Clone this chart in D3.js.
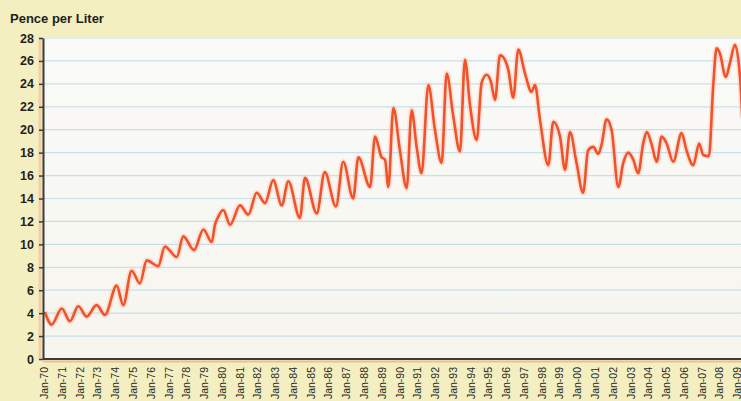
<!DOCTYPE html>
<html><head><meta charset="utf-8">
<script src="https://cdn.jsdelivr.net/npm/d3@7/dist/d3.min.js"></script>
<style>html,body{margin:0;padding:0;background:#F4EFC0;overflow:hidden}</style>
</head><body><svg id="c" width="741" height="401"></svg>
<script>
// decimal years and prices (pence per liter)
const years = [1970.05,1970.43,1971.0,1971.46,1971.93,1972.4,1972.96,1973.43,1974.09,1974.46,1974.93,1975.4,1975.78,1976.43,1976.8,1977.47,1977.84,1978.44,1978.97,1979.44,1979.62,1979.8,
1980.09,1980.47,1981.03,1981.5,1981.97,1982.44,1982.9,1983.38,1983.75,1984.4,1984.69,1985.35,1985.8,1986.43,1986.84,1987.4,1987.69,1988.35,1988.63,1989.0,1989.19,1989.38,1989.66,
1990.03,1990.41,1990.69,1990.97,1991.25,1991.63,1992.0,1992.38,1992.66,1993.03,1993.41,1993.69,1993.97,1994.35,1994.63,1994.91,1995.15,1995.38,1995.66,1995.94,1996.13,1996.41,1996.69,
1997.07,1997.44,1997.63,1997.91,1998.38,1998.66,1999.04,1999.32,1999.6,1999.97,2000.34,2000.62,2000.91,2001.19,2001.38,2001.66,2001.94,2002.32,2002.6,2002.88,2003.16,2003.44,2003.72,
2003.92,2004.2,2004.48,2004.76,2005.04,2005.41,2005.88,2006.16,2006.54,2006.87,2007.1,2007.42,2007.66,2007.85,2008.03,2008.37,2008.6,2008.88,2009.17,2009.3];
const pence = [4.1,3.0,4.4,3.3,4.6,3.7,4.7,3.85,6.4,4.7,7.7,6.6,8.6,8.1,9.8,8.9,10.7,9.5,11.3,10.2,11.7,12.4,
13.0,11.7,13.4,12.6,14.5,13.6,15.6,13.4,15.5,12.3,15.8,12.7,16.3,13.3,17.2,14.0,17.6,15.0,19.4,17.6,17.4,15.0,21.9,
18.2,14.9,21.7,18.5,16.2,23.9,20.0,17.1,24.9,21.2,18.1,26.1,22.2,19.1,24.1,24.8,24.2,22.6,26.5,26.1,25.2,22.8,27.0,
24.9,23.3,23.9,20.9,16.9,20.7,19.4,16.5,19.8,17.1,14.5,18.2,18.5,17.9,18.7,20.9,20.0,15.0,17.1,18.0,17.4,16.2,18.8,
19.8,18.7,17.2,19.4,18.8,17.2,19.7,18.2,16.9,18.8,17.8,17.7,23.8,27.1,26.7,24.6,25.8,27.4,24.6,21.0];
const yTicks = [0,2,4,6,8,10,12,14,16,18,20,22,24,26,28];
const xTickYears = d3.range(1970, 2010);
const xTickLabels = xTickYears.map(y => "Jan-" + String(y % 100).padStart(2, "0"));

const svg = d3.select("#c");
const L = 43, T = 37, B = 359, R = 760;
const x = d3.scaleLinear().domain([1970, 2009]).range([44, 737]);
const y = d3.scaleLinear().domain([0, 28]).range([B, T + 1]);

const defs = svg.append("defs");
const g1 = defs.append("linearGradient").attr("id","pbg").attr("x1",0).attr("y1",0).attr("x2",0).attr("y2",1);
g1.append("stop").attr("offset","0%").attr("stop-color","#FAFAF8");
g1.append("stop").attr("offset","100%").attr("stop-color","#F6F5EE");

svg.append("rect").attr("width",741).attr("height",401).attr("fill","#F4EFC0");
svg.append("rect").attr("x",L).attr("y",T).attr("width",R-L).attr("height",B-T).attr("fill","url(#pbg)");

// gridlines
svg.append("g").selectAll("line").data(yTicks.filter(d=>d>0)).join("line")
  .attr("x1",L).attr("x2",R).attr("y1",d=>y(d)).attr("y2",d=>y(d))
  .attr("stroke","#C9DFEA").attr("stroke-width",1.2);

// shadows near axes
svg.append("line").attr("x1",L).attr("x2",R).attr("y1",B+2.5).attr("y2",B+2.5).attr("stroke","#F2B9A0").attr("stroke-width",2);
svg.append("line").attr("x1",L-3).attr("x2",L-3).attr("y1",T).attr("y2",B).attr("stroke","#F3CFA8").attr("stroke-width",3);

// line
const line = d3.line().x((d,i)=>x(years[i])).y(d=>y(d)).curve(d3.curveMonotoneX);
svg.append("path").datum(pence).attr("d",line).attr("fill","none")
  .attr("stroke","#F9B8A2").attr("stroke-width",6).attr("stroke-opacity",0.35);
svg.append("path").datum(pence).attr("d",line).attr("fill","none")
  .attr("stroke","#F0522A").attr("stroke-width",2.6).attr("stroke-linejoin","round");

// y axis
const ya = svg.append("g").attr("transform",`translate(${L},0)`)
  .call(d3.axisLeft(y).tickValues(yTicks).tickSize(4).tickSizeOuter(0));
ya.select(".domain").attr("stroke","#3b3b3b").attr("stroke-width",2);
ya.selectAll(".tick line").attr("stroke","#3b3b3b").attr("stroke-width",1.5);
ya.selectAll("text").attr("x",-9).attr("fill","#1f1f1f").style("font","bold 12.5px 'Liberation Sans', Arial, sans-serif");

// x axis
const xa = svg.append("g").attr("transform",`translate(0,${B})`)
  .call(d3.axisBottom(x).tickValues(xTickYears).tickFormat((d,i)=>xTickLabels[i]).tickSize(0).tickSizeOuter(0));
xa.select(".domain").attr("stroke","#3b3b3b").attr("stroke-width",2).attr("d",`M${L},0H${R}`);
xa.selectAll("text").attr("transform","rotate(-90)").attr("text-anchor","end")
  .attr("x",-8).attr("y",0).attr("dy","0.35em")
  .attr("fill","#2a2a2a").style("font","10.5px 'Liberation Sans', Arial, sans-serif");

svg.append("text").attr("x",10).attr("y",23).text("Pence per Liter")
  .attr("fill","#1f1f1f").style("font","bold 13px 'Liberation Sans', Arial, sans-serif");
</script></body></html>
